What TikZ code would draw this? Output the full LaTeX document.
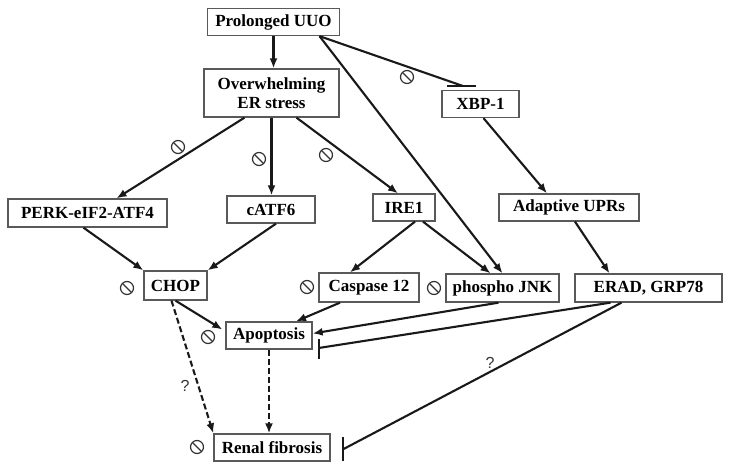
\documentclass[tikz,border=0pt]{standalone}
\usepackage{fontspec}
\setmainfont{Liberation Serif}
\newfontfamily\qfont{Liberation Sans}
\usetikzlibrary{arrows.meta, positioning}
\colorlet{boxColor}{black!65}
\colorlet{lineColor}{black!90}
\tikzstyle{box}=[rectangle, draw=boxColor, line width=1.3pt, fill=white, align=center,
  inner sep=0pt, minimum height=27pt, font=\fontsize{17}{19.5}\selectfont\bfseries]
\tikzstyle{blocked}=[circle, draw=black!80, line width=1.2pt, minimum size=13pt, inner sep=0pt,
  path picture={\draw[line width=1.2pt, black!80] (path picture bounding box.north west) -- (path picture bounding box.south east);}]
\tikzstyle{qmark}=[font=\qfont\fontsize{16}{18}\selectfont, text=black!80]
\tikzstyle{arrow}=[-{Latex[length=10pt,width=8pt]}, line width=2.1pt, draw=lineColor]
\tikzstyle{inhib}=[line width=2.1pt, draw=lineColor]
\tikzstyle{dasharrow}=[arrow, dash pattern=on 6pt off 3pt]

\begin{document}
\begin{tikzpicture}[x=1pt, y=-1pt]
  \useasboundingbox (0,0) rectangle (730,470);
  % boxes
  \node (uuo) [box, minimum width=132pt] at (273.5,22) {Prolonged UUO};
  \node (er) [box, minimum width=135pt, minimum height=48pt] at (271.5,93) {Overwhelming\\ER stress};
  \node (xbp) [box, minimum width=77pt] at (480.5,104) {XBP-1};
  \node (perk) [box, minimum width=159pt, minimum height=28pt] at (87.5,213) {PERK-eIF2-ATF4};
  \node (catf6) [box, minimum width=88pt] at (271,209.5) {cATF6};
  \node (ire1) [box, minimum width=62pt] at (404,207.5) {IRE1};
  \node (upr) [box, minimum width=140pt] at (569,207.5) {Adaptive UPRs};
  \node (chop) [box, minimum width=63pt, minimum height=29pt] at (175.5,285.5) {CHOP};
  \node (casp) [box, minimum width=100pt, minimum height=29pt] at (369,287.5) {Caspase 12};
  \node (jnk) [box, minimum width=113pt, minimum height=28pt] at (502.5,288) {phospho JNK};
  \node (erad) [box, minimum width=147pt, minimum height=28pt] at (648.5,288) {ERAD, GRP78};
  \node (apop) [box, minimum width=86pt] at (269,335.5) {Apoptosis};
  \node (renal) [box, minimum width=116pt] at (272,447.5) {Renal fibrosis};
  % blocked markers
  \node (bXbp) [blocked] at (407,77) {};
  \node (bPerk) [blocked] at (178,147) {};
  \node (bAtf) [blocked] at (259,159) {};
  \node (bIre) [blocked] at (326,155) {};
  \node (bChop) [blocked] at (127,288) {};
  \node (bCasp) [blocked] at (307,287) {};
  \node (bJnk) [blocked] at (434,288) {};
  \node (bApop) [blocked] at (208,337) {};
  \node (bRenal) [blocked] at (197,447) {};
  \node (q1) [qmark] at (185,386) {?};
  \node (q2) [qmark] at (490,363) {?};
  % arrows
  \draw [arrow] (uuo.south) -- (uuo.south |- er.north);
  \draw [arrow] ([xshift=46pt]uuo.south) -- (jnk.north);
  \coordinate (xbpbar) at ([xshift=-18pt,yshift=4pt]xbp.north);
  \draw [inhib] ([xshift=46pt]uuo.south) -- (xbpbar);
  \draw [inhib] ([xshift=-16pt]xbpbar) -- ([xshift=13pt]xbpbar);
  \draw [arrow] ([xshift=-27pt]er.south) -- ([xshift=29pt]perk.north);
  \draw [arrow] (er.south) -- (er.south |- catf6.north);
  \draw [arrow] ([xshift=25pt]er.south) -- ([xshift=-6pt]ire1.north);
  \draw [arrow] ([xshift=3pt]xbp.south) -- ([xshift=-22pt]upr.north);
  \draw [arrow] ([xshift=-4pt]perk.south) -- (chop.north west);
  \draw [arrow] ([xshift=5pt]catf6.south) -- (chop.north east);
  \draw [arrow] ([xshift=11pt]ire1.south) -- ([xshift=-19pt]casp.north);
  \draw [arrow] ([xshift=19pt]ire1.south) -- ([xshift=-12pt]jnk.north);
  \draw [arrow] ([xshift=6pt]upr.south) -- ([xshift=-39pt]erad.north);
  \draw [arrow] (chop.south) -- ([xshift=-3pt,yshift=6pt]apop.west);
  \draw [arrow] ([xshift=-29pt]casp.south) -- ([xshift=27pt]apop.north);
  \draw [arrow] ([xshift=-4pt]jnk.south) -- ([yshift=2pt]apop.east);
  \coordinate (apopbar) at ([xshift=6pt,yshift=-12.5pt]apop.east);
  \draw [inhib] ([xshift=-38pt]erad.south) -- (apopbar);
  \draw [inhib] ([yshift=9pt]apopbar) -- ([yshift=-11pt]apopbar);
  \coordinate (renalbar) at ([xshift=12pt,yshift=-2pt]renal.east);
  \draw [inhib] ([xshift=-27pt]erad.south) -- (renalbar);
  \draw [inhib] ([yshift=12.5pt]renalbar) -- ([yshift=-11.5pt]renalbar);
  \draw [dasharrow] ([xshift=-4pt]chop.south) -- (renal.north west);
  \draw [dasharrow] (apop.south) -- (apop.south |- renal.north);
\end{tikzpicture}
\end{document}
